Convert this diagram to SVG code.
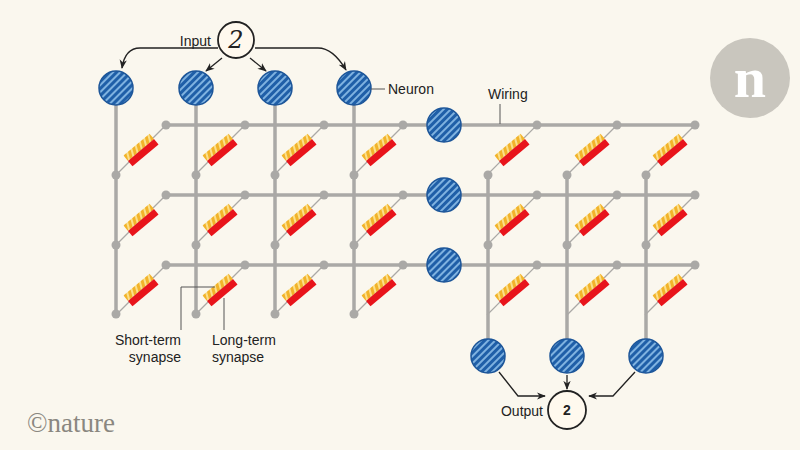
<svg xmlns="http://www.w3.org/2000/svg" width="800" height="450" viewBox="0 0 800 450">
<defs>
<pattern id="hb" width="5" height="5" patternUnits="userSpaceOnUse" patternTransform="rotate(45)">
<rect width="5" height="5" fill="#1f5fa8"/><rect width="2" height="5" fill="#7fb2e0"/>
</pattern>
<pattern id="hy" width="5" height="5" patternUnits="userSpaceOnUse" patternTransform="rotate(25)">
<rect width="5" height="5" fill="#f2b32a"/><rect width="2" height="5" fill="#fbe08a"/>
</pattern>
<marker id="ar" viewBox="0 0 10 10" refX="9" refY="5" markerWidth="7" markerHeight="7" orient="auto"><path d="M0,1 L10,5 L0,9 L3,5z" fill="#222"/></marker>
<g id="syn"><line x1="-25" y1="25" x2="25" y2="-25" class="thin"/><g transform="rotate(-40)"><rect x="-17" y="-7" width="34" height="7" fill="url(#hy)"/><rect x="-17" y="0" width="34" height="7" fill="#e8141b"/></g></g>
</defs>
<style>
.w{stroke:#aaa9a6;stroke-width:3.5;fill:none}
.thin{stroke:#aaa9a6;stroke-width:1.2}
.d{fill:#aaa9a6}
.n{fill:url(#hb);stroke:#1d5699;stroke-width:1.5}
.a{stroke:#222;stroke-width:1.3;fill:none;marker-end:url(#ar)}
.t{font-family:"Liberation Sans",Arial,sans-serif;font-size:14px;fill:#222}
.l{stroke:#555;stroke-width:1;fill:none}
</style>
<rect width="800" height="450" fill="#faf7ee"/>
<g id="connectors">
<line x1="116" y1="88" x2="116" y2="314" class="w"/>
<line x1="196" y1="88" x2="196" y2="314" class="w"/>
<line x1="275" y1="88" x2="275" y2="314" class="w"/>
<line x1="354" y1="88" x2="354" y2="314" class="w"/>
<line x1="166" y1="125" x2="695" y2="125" class="w"/>
<line x1="166" y1="195" x2="695" y2="195" class="w"/>
<line x1="166" y1="265" x2="695" y2="265" class="w"/>
<line x1="488" y1="175" x2="488" y2="355" class="w"/>
<line x1="567" y1="175" x2="567" y2="355" class="w"/>
<line x1="646" y1="175" x2="646" y2="355" class="w"/>
<g class="d">
<circle cx="166" cy="125" r="4.5"/><circle cx="245" cy="125" r="4.5"/><circle cx="324" cy="125" r="4.5"/><circle cx="403" cy="125" r="4.5"/><circle cx="537" cy="125" r="4.5"/><circle cx="617" cy="125" r="4.5"/><circle cx="695" cy="125" r="4.5"/>
<circle cx="166" cy="195" r="4.5"/><circle cx="245" cy="195" r="4.5"/><circle cx="324" cy="195" r="4.5"/><circle cx="403" cy="195" r="4.5"/><circle cx="537" cy="195" r="4.5"/><circle cx="617" cy="195" r="4.5"/><circle cx="695" cy="195" r="4.5"/>
<circle cx="166" cy="265" r="4.5"/><circle cx="245" cy="265" r="4.5"/><circle cx="324" cy="265" r="4.5"/><circle cx="403" cy="265" r="4.5"/><circle cx="537" cy="265" r="4.5"/><circle cx="617" cy="265" r="4.5"/><circle cx="695" cy="265" r="4.5"/>
<circle cx="116" cy="175" r="4.5"/><circle cx="196" cy="175" r="4.5"/><circle cx="275" cy="175" r="4.5"/><circle cx="354" cy="175" r="4.5"/><circle cx="488" cy="175" r="4.5"/><circle cx="567" cy="175" r="4.5"/><circle cx="646" cy="175" r="4.5"/>
<circle cx="116" cy="245" r="4.5"/><circle cx="196" cy="245" r="4.5"/><circle cx="275" cy="245" r="4.5"/><circle cx="354" cy="245" r="4.5"/><circle cx="488" cy="245" r="4.5"/><circle cx="567" cy="245" r="4.5"/><circle cx="646" cy="245" r="4.5"/>
<circle cx="116" cy="314" r="4.5"/><circle cx="196" cy="314" r="4.5"/><circle cx="275" cy="314" r="4.5"/><circle cx="354" cy="314" r="4.5"/>
</g>
<path d="M218,48 L140,48 Q125,48 122,68" class="a"/>
<path d="M222,58 L206,71" class="a"/>
<path d="M250,58 L266,71" class="a"/>
<path d="M255,48 L318,48 Q333,48 346,70" class="a"/>
<path d="M499,372 L518,396 L545,396" class="a"/>
<path d="M567,375 L567,389" class="a"/>
<path d="M635,372 L613,396 L589,396" class="a"/>
</g>
<g id="synapses">
<use href="#syn" x="141" y="150"/><use href="#syn" x="220" y="150"/><use href="#syn" x="299" y="150"/><use href="#syn" x="379" y="150"/><use href="#syn" x="512" y="150"/><use href="#syn" x="592" y="150"/><use href="#syn" x="670" y="150"/>
<use href="#syn" x="141" y="220"/><use href="#syn" x="220" y="220"/><use href="#syn" x="299" y="220"/><use href="#syn" x="379" y="220"/><use href="#syn" x="512" y="220"/><use href="#syn" x="592" y="220"/><use href="#syn" x="670" y="220"/>
<use href="#syn" x="141" y="290"/><use href="#syn" x="220" y="290"/><use href="#syn" x="299" y="290"/><use href="#syn" x="379" y="290"/><use href="#syn" x="512" y="290"/><use href="#syn" x="592" y="290"/><use href="#syn" x="670" y="290"/>
</g>
<g id="neurons">
<circle cx="116" cy="88" r="17" class="n"/><circle cx="196" cy="88" r="17" class="n"/><circle cx="275" cy="88" r="17" class="n"/><circle cx="354" cy="88" r="17" class="n"/>
<circle cx="444" cy="125" r="17" class="n"/><circle cx="444" cy="195" r="17" class="n"/><circle cx="444" cy="265" r="17" class="n"/>
<circle cx="488" cy="356" r="17" class="n"/><circle cx="567" cy="356" r="17" class="n"/><circle cx="646" cy="356" r="17" class="n"/>
</g>
<g id="input">
<circle cx="236" cy="40" r="18" fill="#fff9ee" stroke="#222" stroke-width="1.8"/>
<text x="236" y="48" text-anchor="middle" font-family="'DejaVu Serif',serif" font-style="italic" font-size="24" fill="#222">2</text>
<text x="211" y="46" text-anchor="end" class="t">Input</text>
</g>
<g id="output">
<circle cx="567" cy="410" r="19" fill="#fff9ee" stroke="#222" stroke-width="1.8"/>
<text x="567" y="415" text-anchor="middle" class="t" font-weight="bold" font-size="15">2</text>
<text x="543" y="416" text-anchor="end" class="t">Output</text>
</g>
<g id="labels">
<line x1="371" y1="89" x2="385" y2="89" class="l"/>
<text x="388" y="94" class="t">Neuron</text>
<line x1="500" y1="104" x2="500" y2="124" class="l"/>
<text x="488" y="99" class="t">Wiring</text>
<polyline points="215,287 181,287 181,330" class="l"/>
<line x1="224" y1="298" x2="224" y2="330" class="l"/>
<text x="181" y="345" text-anchor="end" class="t">Short-term</text>
<text x="181" y="362" text-anchor="end" class="t">synapse</text>
<text x="212" y="345" class="t">Long-term</text>
<text x="212" y="362" class="t">synapse</text>
</g>
<g id="logo">
<circle cx="750" cy="78" r="40" fill="#c9c6be"/>
<text x="750" y="97" text-anchor="middle" font-family="'Liberation Serif',serif" font-weight="bold" font-size="58" fill="#fff">n</text>
<text x="27" y="432" font-family="'Liberation Serif',serif" font-size="27" fill="#8a8780">©nature</text>
</g>
</svg>
